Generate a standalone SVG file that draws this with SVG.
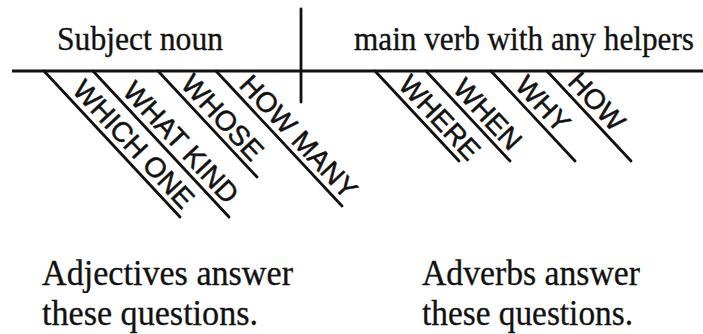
<svg xmlns="http://www.w3.org/2000/svg" width="703" height="334" viewBox="0 0 703 334">
<style>
.ln{stroke:#111;stroke-width:2.8;fill:none;stroke-linecap:round}
.base{stroke:#111;stroke-width:3.2;fill:none}
.q{font-family:"Liberation Sans",Arial,sans-serif;font-size:28px;fill:#111;stroke:#111;stroke-width:0.5}
.s{font-family:"Liberation Serif","Times New Roman","DejaVu Serif",serif;fill:#111;stroke:#111;stroke-width:0.3}
</style>
<rect width="703" height="334" fill="#fff"/>
<g id="connectors">
<line class="base" x1="12" y1="71" x2="703" y2="71"/>
<line class="ln" x1="301" y1="9" x2="301" y2="102"/>
<line class="ln" x1="44" y1="71" x2="180" y2="217"/>
<line class="ln" x1="93" y1="71" x2="229" y2="217"/>
<line class="ln" x1="158" y1="71" x2="257" y2="177"/>
<line class="ln" x1="216" y1="71" x2="342" y2="206"/>
<line class="ln" x1="375" y1="71" x2="459" y2="161"/>
<line class="ln" x1="426" y1="71" x2="510" y2="161"/>
<line class="ln" x1="491" y1="71" x2="575" y2="161"/>
<line class="ln" x1="547" y1="71" x2="631" y2="161"/>
</g>
<g id="subject" transform="translate(57,49.5) scale(1,1.08)"><text class="s" x="0" y="0" font-size="31" textLength="166" lengthAdjust="spacingAndGlyphs">Subject noun</text></g>
<g id="verb" transform="translate(354,49.5) scale(1,1.08)"><text class="s" x="0" y="0" font-size="31" textLength="340" lengthAdjust="spacingAndGlyphs">main verb with any helpers</text></g>
<g id="which-one" transform="translate(44,71) rotate(47)"><text class="q" x="33" y="-6">WHICH ONE</text></g>
<g id="what-kind" transform="translate(93,71) rotate(47)"><text class="q" x="35" y="-6">WHAT KIND</text></g>
<g id="whose" transform="translate(158,71) rotate(47)"><text class="q" x="25" y="-6">WHOSE</text></g>
<g id="how-many" transform="translate(216,71) rotate(47)"><text class="q" x="26" y="-6">HOW MANY</text></g>
<g id="where" transform="translate(375,71) rotate(47)"><text class="q" x="26" y="-6">WHERE</text></g>
<g id="when" transform="translate(426,71) rotate(47)"><text class="q" x="31" y="-6">WHEN</text></g>
<g id="why" transform="translate(491,71) rotate(47)"><text class="q" x="27" y="-6">WHY</text></g>
<g id="how" transform="translate(547,71) rotate(47)"><text class="q" x="22" y="-6">HOW</text></g>
<g id="adjectives-note" class="s" font-size="35">
<text x="42" y="284.5" textLength="251" lengthAdjust="spacingAndGlyphs">Adjectives answer</text>
<text x="42" y="325" textLength="216" lengthAdjust="spacingAndGlyphs">these questions.</text>
</g>
<g id="adverbs-note" class="s" font-size="35">
<text x="422" y="284.5" textLength="218" lengthAdjust="spacingAndGlyphs">Adverbs answer</text>
<text x="422" y="325" textLength="211" lengthAdjust="spacingAndGlyphs">these questions.</text>
</g>
</svg>
